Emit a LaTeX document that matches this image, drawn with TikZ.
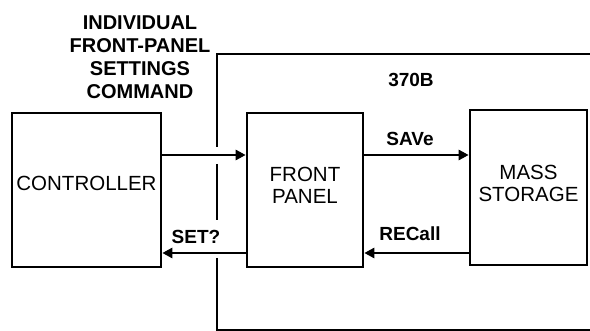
\documentclass[tikz,border=0pt]{standalone}
\usepackage{fontspec}
\setmainfont{Liberation Sans}
\usetikzlibrary{arrows.meta, positioning}
\tikzset{
  every picture/.style={line width=2.6pt},
  unit/.style={draw, line width=2.6pt, minimum width=#1, minimum height=154pt, inner sep=0pt, text depth=10pt, align=center, font=\fontsize{20.5}{22}\selectfont},
  unit/.default=149pt,
  flow/.style={-{Triangle[length=10pt, width=10pt]}, line width=2.6pt},
  tag/.style={font=\bfseries\fontsize{19}{20}\selectfont, inner sep=1pt},
  edge/.style={line width=2pt},
}
\begin{document}
\begin{tikzpicture}[x=1pt, y=-1pt]
  \useasboundingbox (0,0) rectangle (590,331);
  \node[font=\bfseries\fontsize{20}{23}\selectfont, align=center, anchor=north] (cmd) at (140,11) {INDIVIDUAL\\FRONT-PANEL\\SETTINGS\\COMMAND};
  \node[unit=149pt, text depth=13pt] (ctl) at (86.5,190) {CONTROLLER};
  \node[unit=116pt] (fp) at (305,190) {FRONT\\PANEL};
  \node[unit=117pt, minimum height=155pt, text depth=9pt] (ms) at (528.5,187.5) {MASS\\STORAGE};
  % instrument outline
  \coordinate (tr) at (590,54);
  \coordinate (br) at (590,330);
  \draw[edge] (tr) -- (217,54) -- (217,147);
  \draw[edge] (217,164) -- (217,220);
  \draw[edge] (217,258) -- (217,330) -- (br);
  \node[tag] (model) at (411,80) {370B};
  % commands
  \draw[flow] (ctl.east |- 0,155) -- (fp.west |- 0,155);
  \draw[flow] (fp.west |- 0,253) -- (ctl.east |- 0,253);
  \node[tag] (set) at (196,237) {SET?};
  \draw[flow] (fp.east |- 0,155) -- (ms.west |- 0,155);
  \node[tag] (save) at (410,139) {SAVe};
  \draw[flow] (ms.west |- 0,253) -- (fp.east |- 0,253);
  \node[tag] (rcl) at (410,234) {RECall};
\end{tikzpicture}
\end{document}
